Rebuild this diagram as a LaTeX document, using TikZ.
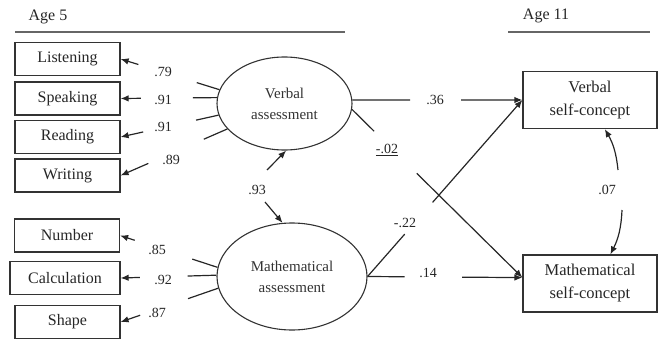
\documentclass[tikz,border=0pt]{standalone}
\usepackage{fontspec}
\setmainfont{Liberation Serif}
\usetikzlibrary{shapes.geometric,calc,arrows.meta}
\tikzset{
 box/.style={draw=black!80, line width=1.2pt, minimum width=105pt, minimum height=33pt, inner sep=0pt, font=\fontsize{16}{18}\selectfont, text=black!85},
 obox/.style={draw=black!80, line width=1.2pt, minimum width=134pt, minimum height=57pt, inner sep=0pt, align=center, font=\fontsize{16.5}{23}\selectfont, text=black!85},
 latent/.style={ellipse, draw=black!80, line width=1.1pt, inner sep=0pt, align=center, font=\fontsize{15}{21}\selectfont, text=black!80},
 lab/.style={font=\fontsize{14}{16}\selectfont, inner sep=1pt, text=black!85},
 ln/.style={draw=black!85, line width=1.2pt},
 arr/.style={-{Latex[length=8pt,width=6.5pt]}},
 hdr/.style={draw=black!60, line width=2.6pt},
 htext/.style={font=\fontsize{16}{18}\selectfont, text=black!85, inner sep=0pt},
}
\newcommand\partline[4]{%
  \draw[ln] (#1) -- ($(#1)!#3!(#2)$);
  \draw[ln,arr] ($(#1)!#4!(#2)$) -- (#2);}
\begin{document}
\begin{tikzpicture}[x=1pt,y=-1pt]
\useasboundingbox (0,0) rectangle (659,340);
% headers
\node[htext] (age5) at (48,17) {Age 5};
\node[htext] (age11) at (546,16) {Age 11};
\coordinate (h5a) at (15,32); \coordinate (h5b) at (345,32);
\coordinate (h11a) at (508,32); \coordinate (h11b) at (650,32);
\draw[hdr] (h5a) -- (h5b);
\draw[hdr] (h11a) -- (h11b);
% indicator boxes
\node[box] (L) at (67.5,59) {Listening};
\node[box] (S) at (67.5,98.5) {Speaking};
\node[box] (R) at (67.5,137) {Reading};
\node[box] (W) at (67.5,175.5) {Writing};
\node[box] (N) at (67,235.5) {Number};
\node[box, minimum width=110pt] (C) at (65,278) {Calculation};
\node[box] (Sh) at (67.5,322) {Shape};
% latent
\node[latent, minimum width=135pt, minimum height=93pt] (V) at (284.5,103.5) {Verbal\\assessment};
\node[latent, minimum width=150pt, minimum height=107pt] (M) at (292,276.5) {Mathematical\\assessment};
% outcome boxes
\node[obox] (VS) at (590,100) {Verbal\\self-concept};
\node[obox] (MS) at (590,283.5) {Mathematical\\self-concept};
% loadings
\partline{V.168}{L.east}{0.23}{0.82}
\partline{V.175}{S.east}{0.25}{0.79}
\partline{V.190}{R.east}{0.23}{0.77}
\partline{V.204.5}{W.east}{0.22}{0.74}
\partline{M.173.4}{N.east}{0.26}{0.85}
\partline{M.179}{C.east}{0.30}{0.80}
\partline{M.189}{Sh.east}{0.31}{0.80}
\node[lab] (l79) at (163,72) {.79};
\node[lab] (l91a) at (163,100) {.91};
\node[lab] (l91b) at (163,127) {.91};
\node[lab] (l89) at (171,160) {.89};
\node[lab] (l85) at (157,250) {.85};
\node[lab] (l92) at (163,280) {.92};
\node[lab] (l87) at (157,313) {.87};
% structural paths
\partline{V.3}{VS.west}{0.34}{0.64}
\partline{V.-5}{MS.175}{0.13}{0.38}
\partline{M.east}{VS.west}{0.24}{0.42}
\partline{M.east}{MS.175}{0.24}{0.61}
\node[lab] (l36) at (435,100) {.36};
\node[lab] (l02) at (387,150) {\underline{-.02}};
\node[lab] (l22) at (405,223) {-.22};
\node[lab] (l14) at (428,273) {.14};
% correlations
\node[lab] (l93) at (257,190) {.93};
\coordinate (a93) at (267,170);
\coordinate (b93) at (265,202);
\draw[ln,arr] (a93) -- (V.272);
\draw[ln,arr] (b93) -- (M.100);
\node[lab] (l07) at (607,190) {.07};
\coordinate (a07) at (618,170);
\coordinate (b07) at (622,210);
\draw[ln,arr] (a07) to[bend right=12] (VS.297);
\draw[ln,arr] (b07) to[bend left=12] (MS.55);
\end{tikzpicture}
\end{document}
